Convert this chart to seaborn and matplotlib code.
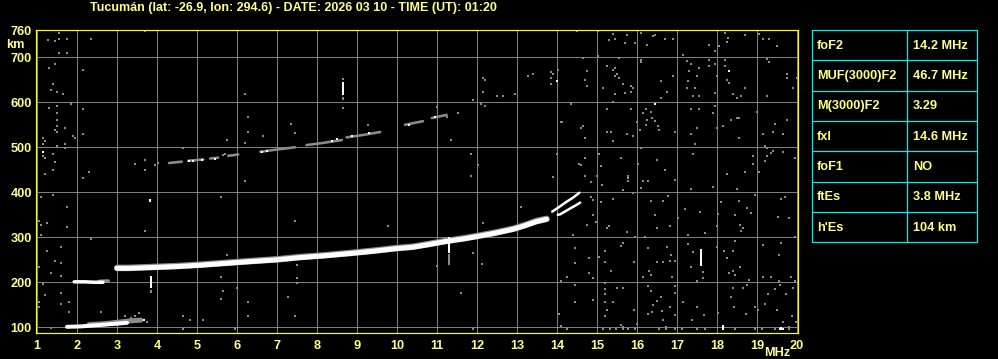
import matplotlib
matplotlib.use("Agg")
import matplotlib.pyplot as plt
import seaborn as sns
import pandas as pd
import numpy as np

# ---------------- data ----------------
title = "Tucumán (lat: -26.9, lon: 294.6) - DATE: 2026 03 10 - TIME (UT): 01:20"
freq_ticks = list(range(1, 21))
height_ticks = [100, 200, 300, 400, 500, 600, 700, 760]

table_labels = ["foF2", "MUF(3000)F2", "M(3000)F2", "fxl", "foF1", "ftEs", "h'Es"]
table_values = ["14.2 MHz", "46.7 MHz", "3.29", "14.6 MHz", "NO", "3.8 MHz", "104 km"]

# main F trace (ordinary)
f_trace_freq = [3.0, 3.3, 3.9, 4.5, 5.08, 5.7, 6.33, 7.0, 7.58, 8.2, 8.83, 9.4, 10.0, 10.4,
                10.8, 11.24, 11.7, 12.08, 12.5, 12.91, 13.2, 13.49, 13.74]
f_trace_height = [231, 231, 233, 235, 238, 242, 246, 250, 255, 259, 264, 269, 275, 278,
                  284, 291, 297, 303, 310, 318, 326, 335, 340]
# split high-frequency branches
o_branch_freq = [13.88, 14.0, 14.24, 14.4, 14.56]
o_branch_height = [357, 364, 379, 388, 399]
x_branch_freq = [14.02, 14.08, 14.33, 14.45, 14.58]
x_branch_height = [350, 351, 364, 370, 377]
# E layer trace
e_trace_freq = [1.75, 2.1, 2.4, 2.7, 3.0, 3.25]
e_trace_height = [101, 102, 104, 106, 108, 110]
e_halo_freq = [2.3, 2.7, 3.0, 3.3, 3.6]
e_halo_height = [106, 108, 111, 114, 116]
# sporadic trace near 200 km
es_freq = [1.93, 2.2, 2.45, 2.65]
es_height = [201, 201, 200, 200]
es_tail_freq = [2.55, 2.78]
es_tail_height = [202, 203]
# second hop F trace, broken into segments
f2_seg = [0, 0, 1, 1, 2, 2, 3, 3, 4, 4, 4, 5, 5, 5, 6, 6, 6, 7, 7, 8, 8]
f2_freq = [4.30, 4.62, 4.78, 5.16, 5.33, 5.53, 5.78, 6.03, 6.58, 7.0, 7.45,
           7.74, 8.1, 8.62, 8.74, 9.2, 9.58, 10.2, 10.65, 10.87, 11.24]
f2_height = [465, 468, 470, 473, 475, 477, 481, 484, 490, 495, 500,
             505, 509, 516, 522, 528, 534, 550, 558, 565, 572]
f2_white_freq = [4.8, 4.9, 5.12, 5.45, 6.62, 6.74, 8.37, 8.49, 8.87, 9.3, 10.3, 10.95]
f2_white_height = [469, 469, 472, 475, 490, 492, 515, 518, 525, 531, 550, 567]

# vertical streaks: frequency, bottom, top
streak_freq = [8.64, 17.59, 3.84, 3.83, 11.3, 18.16, 19.6]
streak_low = [616, 237, 187, 378, 265, 95, 94]
streak_high = [646, 274, 214, 384, 300, 104, 100]
gray_streak_freq = [8.64, 8.64, 11.31, 3.84]
gray_streak_low = [606, 650, 238, 176]
gray_streak_high = [612, 655, 262, 182]

# scattered noise (gray)
noise_left_freq = [1.56, 1.28, 1.45, 1.56, 1.74, 2.34, 1.56, 1.74, 3.70, 1.45, 1.30, 2.14, 1.39,
                   1.34, 1.49, 1.64, 1.00, 1.84, 1.30, 1.49, 2.14, 1.49, 1.49, 1.49, 1.70, 1.45,
                   1.49, 2.14, 1.89, 1.95, 1.16, 1.20, 1.14, 1.49, 1.70, 1.70, 1.00, 1.16, 1.20,
                   1.39, 1.45, 1.39, 1.20, 2.14, 2.31, 1.00, 1.10, 1.39, 1.74, 1.00, 1.06, 1.10,
                   1.24, 1.74, 1.10, 3.70, 2.34, 1.00, 1.24, 1.60, 1.06, 1.45, 1.60, 1.34, 1.60,
                   1.14, 1.20, 1.60, 1.60, 1.81, 1.06, 1.06, 1.81, 2.59, 3.45, 3.70, 3.70, 3.95,
                   4.03, 1.34, 4.64, 4.83, 5.16, 4.64, 4.64, 3.20, 3.34, 3.45, 3.56, 3.41, 3.74]
noise_left_height = [754, 739, 736, 741, 741, 741, 710, 710, 758, 685, 676, 672, 641,
                     628, 623, 618, 636, 596, 587, 591, 584, 576, 561, 547, 543, 539,
                     534, 530, 524, 521, 521, 513, 507, 502, 507, 498, 487, 480, 476,
                     485, 467, 450, 441, 432, 445, 432, 389, 395, 367, 391, 336, 328,
                     332, 323, 304, 315, 297, 284, 270, 278, 233, 248, 243, 221, 213,
                     196, 172, 176, 152, 156, 156, 144, 134, 134, 463, 472, 450, 460,
                     465, 98, 125, 116, 116, 96, 498, 125, 120, 125, 131, 112, 112]

noise_mid_freq = [5.59, 5.64, 5.59, 5.99, 6.28, 6.28, 5.95, 7.49, 7.49, 7.28, 7.45, 11.59, 11.89,
                  10.99, 12.12, 6.20, 5.59, 7.45, 9.78, 5.74, 7.49, 11.84, 13.09, 13.89, 12.14,
                  11.89, 6.28, 6.28, 5.74, 6.20, 6.64, 7.34, 7.45, 8.64, 9.28, 11.01, 11.14,
                  11.34, 11.53, 6.20, 12.14, 12.20, 12.14, 11.89, 12.49, 12.64, 12.95, 12.09,
                  12.20, 13.28, 13.39, 13.84, 13.89, 14.03, 13.84, 13.84, 11.24, 14.09, 11.84,
                  12.03, 13.99, 14.09, 14.04, 14.09, 5.65, 5.70]
noise_mid_height = [212, 181, 162, 187, 157, 125, 96, 209, 198, 168, 125, 177, 96,
                    236, 241, 425, 390, 337, 324, 261, 238, 436, 368, 433, 331,
                    266, 567, 535, 516, 510, 525, 552, 531, 587, 550, 589, 570,
                    516, 577, 618, 654, 650, 623, 606, 615, 615, 618, 596,
                    592, 658, 663, 667, 663, 672, 654, 641, 567, 556, 485,
                    461, 485, 203, 130, 103, 482, 484]

noise_right_freq = [14.49, 15.03, 15.39, 15.30, 15.74, 15.45, 15.70, 15.95, 16.09, 16.24, 16.39,
                    16.45, 16.70, 16.91, 17.14, 17.81, 17.95, 18.06, 18.20, 18.26, 18.28, 18.70,
                    19.04, 19.16, 19.31, 19.49, 14.64, 15.03, 15.56, 16.09, 16.09, 14.74, 14.70,
                    14.74, 15.24, 15.41, 15.45, 15.49, 15.45, 15.56, 15.64, 15.84, 15.89, 15.84,
                    15.70, 15.45, 15.14, 15.39, 16.59, 16.74, 16.59, 16.91, 17.24, 17.34, 17.56,
                    17.31, 17.49, 17.28, 17.24, 17.45, 17.41, 17.56, 17.81, 17.95, 17.81, 17.99,
                    17.95, 18.20, 18.20, 18.24, 18.31, 18.41, 18.49, 18.59, 18.70, 19.24, 19.31,
                    19.24, 19.74, 19.74, 19.89, 19.99, 14.35, 14.12, 15.24, 15.84, 16.01, 16.16,
                    16.23, 16.34, 16.26, 16.23, 16.37, 16.45, 16.53, 16.56, 16.08, 14.64, 14.59,
                    14.70, 15.24, 15.34, 15.41, 15.74, 15.89, 16.95, 17.34, 17.56, 17.34, 17.49,
                    17.45, 17.91, 17.95, 17.99, 18.14, 18.34, 18.49, 18.55, 18.55, 18.99, 19.14,
                    19.39, 19.45, 19.64, 19.74, 19.20, 19.26, 19.34, 19.24, 19.41, 19.64, 19.95,
                    19.20, 18.89, 18.89, 18.70, 19.06, 18.24, 17.39, 16.70, 16.49, 16.03, 16.09,
                    15.78, 15.59, 15.09, 15.06, 14.70, 14.59, 14.55, 14.70, 14.99,
                    14.84, 15.12, 15.64, 15.78, 15.78, 16.14, 16.28, 16.09, 16.95, 17.34, 17.89,
                    18.49, 14.84, 14.89, 15.09, 15.39, 15.89, 16.34, 16.64, 16.78, 17.20, 16.45,
                    17.03, 16.49, 16.83, 15.74, 15.95, 16.20, 15.24, 15.31, 14.98, 14.89, 14.74,
                    14.39, 17.58, 18.03, 17.99, 18.09, 18.56, 18.74, 18.84, 18.58, 18.64, 18.59,
                    18.45, 17.70, 17.28, 18.95, 19.59, 19.70, 19.53, 19.81, 19.95,
                    14.45, 14.45, 14.24, 14.81, 14.81, 14.89, 15.06, 15.20, 15.20, 15.34, 15.59,
                    15.64, 15.93, 16.14, 16.28, 16.31, 16.34, 16.51, 16.74, 16.64, 16.83, 16.85,
                    16.95, 16.87, 17.28, 17.39, 17.34, 17.64, 17.64, 17.49, 17.99, 18.18, 18.41,
                    18.45, 18.26, 18.31, 18.41, 18.45, 18.58, 18.81, 19.14, 19.16, 19.34, 19.56,
                    19.59, 19.55, 19.84, 19.95, 14.45, 14.45, 14.89, 15.20, 15.20, 15.20, 15.20,
                    15.51, 15.64, 15.39, 15.24, 15.20, 15.59, 15.93, 16.01, 16.28, 16.34, 16.39,
                    16.49, 16.59, 16.37, 16.28, 16.62, 16.64, 16.95, 16.95, 17.14, 16.83, 16.95,
                    17.37, 17.68, 17.51, 18.03, 18.34, 18.41, 18.64, 18.74, 18.43, 18.73, 18.95,
                    19.03, 19.20, 19.28, 19.45, 19.58, 19.73, 19.89, 19.49, 19.87, 19.98, 19.64,
                    14.24, 15.14, 15.33, 15.48, 15.66, 15.78, 15.95, 16.56, 16.73, 16.95, 17.12,
                    17.49, 17.70, 18.45, 18.95, 19.12, 19.45, 19.81, 15.66, 16.73, 19.81]
noise_right_height = [759, 758, 752, 739, 750, 741, 732, 732, 754, 728, 747,
                      750, 741, 741, 706, 728, 715, 724, 754, 735, 743, 749,
                      752, 741, 741, 724, 698, 702, 698, 695, 690, 669, 650,
                      637, 680, 672, 676, 663, 658, 654, 641, 636, 632, 623,
                      621, 619, 632, 601, 647, 623, 610, 658, 691, 685, 676,
                      669, 658, 647, 632, 632, 613, 613, 695, 685, 680, 658,
                      621, 695, 680, 650, 643, 618, 610, 613, 632, 697, 690,
                      613, 663, 654, 632, 654, 596, 556, 584, 584, 556, 576,
                      584, 578, 561, 550, 565, 558, 547, 539, 539, 547, 543,
                      521, 534, 534, 513, 530, 526, 534, 584, 584, 530, 543,
                      507, 576, 591, 543, 547, 561, 565, 565, 521, 578, 530,
                      534, 552, 530, 561, 502, 498, 487, 480, 492, 490, 476,
                      469, 480, 463, 445, 445, 441, 485, 450, 472, 463, 498,
                      437, 476, 459, 485, 476, 460, 463, 437, 437,
                      422, 416, 405, 432, 425, 425, 425, 410, 427, 407, 412,
                      407, 390, 383, 379, 385, 398, 381, 381, 392, 363, 350,
                      342, 320, 324, 311, 301, 301, 321, 324, 335, 350, 327,
                      305, 356, 351, 324, 378, 381, 364, 353, 327, 321, 314,
                      350, 309, 304, 394, 385, 390, 344, 342, 301,
                      276, 242, 212, 253, 220, 209, 257, 270, 244, 225, 281,
                      287, 244, 212, 277, 224, 216, 244, 279, 246, 247, 261,
                      247, 212, 284, 267, 235, 222, 209, 203, 279, 270, 270,
                      292, 253, 220, 225, 216, 235, 205, 283, 212, 212, 203,
                      287, 261, 212, 203, 194, 157, 161, 198, 185, 173, 157,
                      187, 187, 157, 138, 124, 105, 138, 107, 192, 181, 150,
                      158, 168, 135, 129, 136, 116, 176, 192, 156, 144, 127,
                      116, 127, 144, 131, 168, 188, 187, 194, 146, 129, 146,
                      138, 151, 173, 185, 194, 173, 187, 138, 126, 112, 112,
                      96, 96, 96, 96, 96, 96, 96, 96, 96, 96, 96,
                      96, 96, 96, 96, 96, 96, 96, 100, 100, 100]

white_dot_freq = [18.30, 16.45, 1.14, 13.99, 3.68, 19.58, 19.64]
white_dot_height = [670, 597, 489, 648, 116, 97, 97]

# ---------------- style ----------------
sns.set_style("dark", {"axes.facecolor": "black", "figure.facecolor": "black"})
plt.rcParams["font.family"] = ["Liberation Sans", "DejaVu Sans"]
plt.rcParams["font.weight"] = "bold"

TXT = "#FFFF88"
YEL = "#FFFF00"
GRID = "#7F7F7F"
NOISE = "#8C8C8C"
CYAN = "#00F0F0"
DPI = 100
W, H = 998, 359
px = 72.0 / DPI  # points per pixel
FS = 9.2

fig = plt.figure(figsize=(W / DPI, H / DPI), dpi=DPI, facecolor="black")
L, R, T, B = 36, 798, 29.5, 333
ax = fig.add_axes([L / W, (H - B) / H, (R - L) / W, (B - T) / H])
ax.set_facecolor("black")

# noise
for fq, hg in [(noise_left_freq, noise_left_height),
               (noise_mid_freq, noise_mid_height),
               (noise_right_freq, noise_right_height)]:
    sns.scatterplot(x=fq, y=hg, ax=ax, marker="s", s=(2.7 * px) ** 2,
                    color=NOISE, linewidth=0, zorder=2, legend=False)

# 2nd hop trace (gray segments + white bits)
df2 = pd.DataFrame({"f": f2_freq, "h": f2_height, "seg": f2_seg})
sns.lineplot(data=df2, x="f", y="h", units="seg", estimator=None, sort=False,
             color=NOISE, linewidth=2.6 * px, ax=ax, zorder=3, legend=False)
sns.scatterplot(x=f2_white_freq, y=f2_white_height, ax=ax, marker="s",
                s=(2.8 * px) ** 2, color="white", linewidth=0, zorder=4, legend=False)

# E layer
sns.lineplot(x=e_halo_freq, y=e_halo_height, ax=ax, sort=False, estimator=None,
             color=NOISE, linewidth=5 * px, zorder=3)
sns.lineplot(x=e_trace_freq, y=e_trace_height, ax=ax, sort=False, estimator=None,
             color="white", linewidth=4 * px, zorder=4)
# Es near 200 km
sns.lineplot(x=es_tail_freq, y=es_tail_height, ax=ax, sort=False, estimator=None,
             color=NOISE, linewidth=3.5 * px, zorder=3)
sns.lineplot(x=es_freq, y=es_height, ax=ax, sort=False, estimator=None,
             color="white", linewidth=3.5 * px, zorder=4)

# main F trace
sns.lineplot(x=f_trace_freq, y=[h + 1 for h in f_trace_height], ax=ax, sort=False,
             estimator=None, color=NOISE, linewidth=6.5 * px, zorder=3)
sns.lineplot(x=f_trace_freq, y=f_trace_height, ax=ax, sort=False, estimator=None,
             color="white", linewidth=5 * px, zorder=4)
sns.lineplot(x=o_branch_freq, y=o_branch_height, ax=ax, sort=False, estimator=None,
             color="white", linewidth=2.5 * px, zorder=4)
sns.lineplot(x=x_branch_freq, y=x_branch_height, ax=ax, sort=False, estimator=None,
             color="white", linewidth=2.5 * px, zorder=4)

# vertical streaks
ax.vlines(gray_streak_freq, gray_streak_low, gray_streak_high, color=NOISE,
          linewidth=2 * px, zorder=4)
ax.vlines(streak_freq, streak_low, streak_high, color="white", linewidth=2 * px, zorder=5)
sns.scatterplot(x=white_dot_freq, y=white_dot_height, ax=ax, marker="s",
                s=(2.4 * px) ** 2, color="white", linewidth=0, zorder=5, legend=False)

# axes styling (after seaborn calls)
ax.set_xlim(0.975, 20.025)
ax.set_ylim(87.3, 761.7)
ax.set_axisbelow(True)
ax.grid(True, color=GRID, linewidth=1.0 * px)
ax.set_xticks(freq_ticks)
ax.set_yticks(height_ticks)
ax.set_xticklabels([str(v) for v in freq_ticks])
ax.set_yticklabels([str(v) for v in height_ticks])
ax.tick_params(axis="both", length=0, colors=TXT, labelsize=FS)
ax.tick_params(axis="x", pad=5)
ax.tick_params(axis="y", pad=3)
for lab in ax.get_xticklabels() + ax.get_yticklabels():
    lab.set_fontweight("bold")
for sp in ax.spines.values():
    sp.set_color(YEL)
    sp.set_linewidth(1.2 * px)
    sp.set_visible(True)
ax.set_xlabel("")
ax.set_ylabel("")

# texts
fig.text(90 / W, 1 - 7.5 / H, title, color=TXT, fontsize=9.0, fontweight="bold",
         ha="left", va="center")
fig.text(6 / W, 1 - 45 / H, "km", color=TXT, fontsize=FS, fontweight="bold",
         ha="left", va="center")
fig.text(777 / W, 1 - 353 / H, "MHz", color=TXT, fontsize=FS, fontweight="bold",
         ha="center", va="center")

# parameter table
tL, tR, tT, tB = 812, 977, 30, 242.3
tax = fig.add_axes([tL / W, (H - tB) / H, (tR - tL) / W, (tB - tT) / H])
tax.set_xlim(0, tR - tL)
n = len(table_labels)
tax.set_ylim(n, 0)
tax.axis("off")
lw = 1.2 * px
for i in range(n + 1):
    tax.plot([0, tR - tL], [i, i], color=CYAN, linewidth=lw, clip_on=False)
for xv in [0, 907 - tL, tR - tL]:
    tax.plot([xv, xv], [0, n], color=CYAN, linewidth=lw, clip_on=False)
for i, (lab, val) in enumerate(zip(table_labels, table_values)):
    tax.text(817 - tL, i + 0.52, lab, color=TXT, fontsize=FS, fontweight="bold",
             ha="left", va="center")
    tax.text(913 - tL, i + 0.52, val, color=TXT, fontsize=FS, fontweight="bold",
             ha="left", va="center")

fig.savefig("out.png", dpi=DPI, facecolor="black")
